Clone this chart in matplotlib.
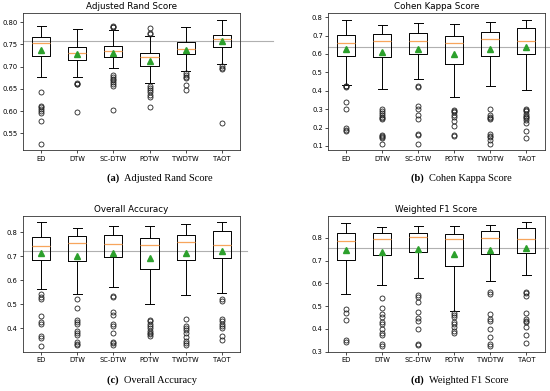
"""Boxplots of clustering scores for six distance measures"""

import matplotlib
matplotlib.use('Agg')
import matplotlib.pyplot as plt

METHODS = ['ED', 'DTW', 'SC-DTW', 'PDTW', 'TWDTW', 'TAOT']

# (a) Adjusted Rand Score
ARS_LO = [0.677, 0.676, 0.698, 0.664, 0.689, 0.705]
ARS_Q1 = [0.725, 0.716, 0.722, 0.702, 0.728, 0.744]
ARS_MED = [0.754, 0.731, 0.735, 0.722, 0.740, 0.763]
ARS_Q3 = [0.766, 0.745, 0.747, 0.730, 0.755, 0.771]
ARS_HI = [0.791, 0.784, 0.782, 0.770, 0.789, 0.806]
ARS_MEAN = [0.737, 0.728, 0.730, 0.713, 0.737, 0.757]
ARS_FLIERS = [[0.643, 0.612, 0.608, 0.604, 0.600, 0.595, 0.577, 0.526],
              [0.662, 0.661, 0.660, 0.598],
              [0.791, 0.790, 0.789, 0.681, 0.677, 0.673, 0.669, 0.665, 0.661, 0.657, 0.603],
              [0.788, 0.775, 0.773, 0.657, 0.652, 0.647, 0.642, 0.637, 0.632, 0.608],
              [0.685, 0.680, 0.677, 0.674, 0.658, 0.648],
              [0.702, 0.698, 0.694, 0.573]]
ARS_REF = 0.757

# (b) Cohen Kappa Score
CKS_LO = [0.432, 0.408, 0.464, 0.368, 0.428, 0.406]
CKS_Q1 = [0.590, 0.582, 0.599, 0.544, 0.590, 0.599]
CKS_MED = [0.657, 0.668, 0.668, 0.659, 0.680, 0.668]
CKS_Q3 = [0.702, 0.709, 0.713, 0.700, 0.718, 0.740]
CKS_HI = [0.782, 0.755, 0.766, 0.762, 0.773, 0.787]
CKS_MEAN = [0.626, 0.608, 0.626, 0.599, 0.626, 0.635]
CKS_FLIERS = [[0.428, 0.424, 0.420, 0.337, 0.299, 0.195, 0.188, 0.182],
              [0.300, 0.290, 0.280, 0.270, 0.256, 0.250, 0.245, 0.162, 0.155, 0.148, 0.142, 0.111],
              [0.425, 0.420, 0.319, 0.300, 0.270, 0.247, 0.165, 0.160, 0.111],
              [0.296, 0.290, 0.285, 0.270, 0.256, 0.235, 0.210, 0.160, 0.154],
              [0.300, 0.270, 0.260, 0.250, 0.245, 0.165, 0.155, 0.150, 0.133, 0.111],
              [0.303, 0.296, 0.292, 0.274, 0.265, 0.257, 0.250, 0.240, 0.227, 0.182, 0.144]]
CKS_REF = 0.635

# (c) Overall Accuracy
OA_LO = [0.563, 0.542, 0.574, 0.503, 0.539, 0.547]
OA_Q1 = [0.683, 0.681, 0.696, 0.649, 0.685, 0.694]
OA_MED = [0.744, 0.756, 0.751, 0.746, 0.760, 0.747]
OA_Q3 = [0.781, 0.785, 0.790, 0.776, 0.790, 0.807]
OA_HI = [0.843, 0.819, 0.828, 0.825, 0.833, 0.843]
OA_MEAN = [0.714, 0.703, 0.714, 0.693, 0.714, 0.722]
OA_FLIERS = [[0.542, 0.530, 0.524, 0.451, 0.427, 0.420, 0.367, 0.360, 0.328],
             [0.521, 0.487, 0.435, 0.428, 0.420, 0.390, 0.380, 0.374, 0.343, 0.336, 0.333],
             [0.537, 0.530, 0.467, 0.455, 0.418, 0.410, 0.383, 0.343, 0.338, 0.333],
             [0.437, 0.430, 0.420, 0.410, 0.400, 0.390, 0.380, 0.375, 0.368],
             [0.440, 0.410, 0.400, 0.392, 0.383, 0.365, 0.346, 0.338, 0.333],
             [0.521, 0.513, 0.440, 0.430, 0.420, 0.410, 0.400, 0.369, 0.350]]
OA_REF = 0.722

# (d) Weighted F1 Score
WF1_LO = [0.553, 0.593, 0.625, 0.477, 0.612, 0.635]
WF1_Q1 = [0.703, 0.726, 0.736, 0.677, 0.728, 0.731]
WF1_MED = [0.784, 0.796, 0.803, 0.794, 0.800, 0.796]
WF1_Q3 = [0.819, 0.822, 0.822, 0.815, 0.831, 0.844]
WF1_HI = [0.866, 0.848, 0.851, 0.851, 0.858, 0.869]
WF1_MEAN = [0.747, 0.736, 0.749, 0.727, 0.747, 0.755]
WF1_FLIERS = [[0.489, 0.469, 0.438, 0.350, 0.343],
              [0.537, 0.492, 0.466, 0.453, 0.430, 0.420, 0.400, 0.380, 0.375, 0.333, 0.326],
              [0.547, 0.539, 0.517, 0.472, 0.448, 0.434, 0.400, 0.333, 0.327],
              [0.470, 0.460, 0.450, 0.430, 0.420, 0.410, 0.390, 0.383],
              [0.562, 0.552, 0.466, 0.445, 0.434, 0.400, 0.365, 0.333, 0.326],
              [0.562, 0.557, 0.543, 0.470, 0.442, 0.435, 0.430, 0.410, 0.371, 0.340]]
WF1_REF = 0.755


def make_stats(lo, q1, med, q3, hi, mean, fliers):
    """Build the list of dicts that ax.bxp wants"""
    return [{'whislo': lo[i], 'q1': q1[i], 'med': med[i], 'q3': q3[i],
             'whishi': hi[i], 'mean': mean[i], 'fliers': fliers[i],
             'label': METHODS[i]} for i in range(len(METHODS))]


def draw_panel(fig, rect, title, caption_tag, caption, stats, ref, ref_xmax, step):
    ax = fig.add_axes(rect)
    ax.bxp(stats, showmeans=True, widths=0.5,
           boxprops=dict(linewidth=0.7),
           whiskerprops=dict(linewidth=0.7),
           capprops=dict(linewidth=0.7),
           medianprops=dict(color='#f7a55c', linewidth=0.9),
           meanprops=dict(marker='^', markerfacecolor='#2ca02c',
                          markeredgecolor='#2ca02c', markersize=4),
           flierprops=dict(marker='o', markerfacecolor='none',
                           markeredgecolor='#222222', markersize=3.6,
                           markeredgewidth=0.6))
    # reference line at the TAOT mean, runs past the right spine
    ax.axhline(ref, xmin=0, xmax=ref_xmax, color='#b0b0b0', linewidth=0.8,
               clip_on=False, zorder=0)
    ax.yaxis.set_major_locator(plt.MultipleLocator(step))
    ax.set_title(title, fontsize=6.3, pad=3)
    ax.tick_params(labelsize=4.9, length=2, width=0.5, pad=2)
    for spine in ax.spines.values():
        spine.set_linewidth(0.6)
        spine.set_color('#333333')
    # caption under the panel
    x_mid = rect[0] + rect[2] * 0.48
    y_cap = rect[1] - 0.073
    ax.figure.text(x_mid - 0.005, y_cap, caption_tag + '  ', ha='right', va='center',
                   fontsize=7.5, fontweight='bold', family='Liberation Serif')
    ax.figure.text(x_mid - 0.005, y_cap, caption, ha='left', va='center',
                   fontsize=7.5, family='Liberation Serif')
    return ax


def main():
    fig = plt.figure(figsize=(5.5, 3.91), dpi=100)
    draw_panel(fig, [0.042, 0.616, 0.394, 0.350], 'Adjusted Rand Score', '(a)',
               'Adjusted Rand Score',
               make_stats(ARS_LO, ARS_Q1, ARS_MED, ARS_Q3, ARS_HI, ARS_MEAN, ARS_FLIERS),
               ARS_REF, 1.155, 0.05)
    draw_panel(fig, [0.597, 0.616, 0.393, 0.350], 'Cohen Kappa Score', '(b)',
               'Cohen Kappa Score',
               make_stats(CKS_LO, CKS_Q1, CKS_MED, CKS_Q3, CKS_HI, CKS_MEAN, CKS_FLIERS),
               CKS_REF, 1.02, 0.1)
    draw_panel(fig, [0.042, 0.100, 0.394, 0.348], 'Overall Accuracy', '(c)',
               'Overall Accuracy',
               make_stats(OA_LO, OA_Q1, OA_MED, OA_Q3, OA_HI, OA_MEAN, OA_FLIERS),
               OA_REF, 1.035, 0.1)
    draw_panel(fig, [0.596, 0.100, 0.394, 0.348], 'Weighted F1 Score', '(d)',
               'Weighted F1 Score',
               make_stats(WF1_LO, WF1_Q1, WF1_MED, WF1_Q3, WF1_HI, WF1_MEAN, WF1_FLIERS),
               WF1_REF, 1.017, 0.1)
    fig.savefig('out.png', dpi=100)


if __name__ == "__main__":
    main()
